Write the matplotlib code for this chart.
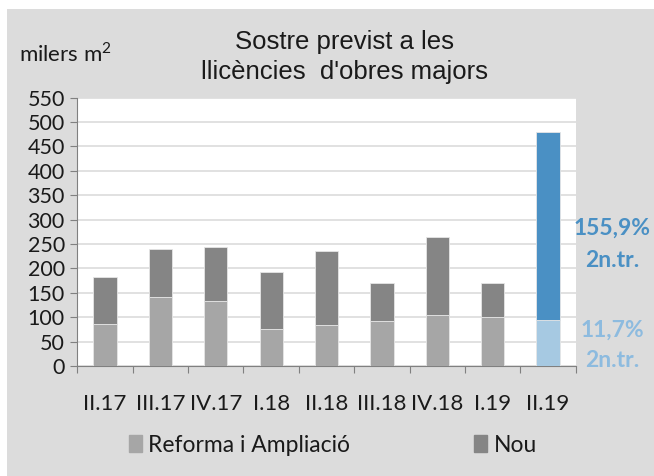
import matplotlib.pyplot as plt
import matplotlib.patches as mpatches
import numpy as np

# Dades (milers m2)
trimestres = ['II.17', 'III.17', 'IV.17', 'I.18', 'II.18', 'III.18', 'IV.18', 'I.19', 'II.19']
reforma = [87, 141, 134, 76, 84, 92, 105, 100, 95]
nou = [96, 99, 109, 117, 151, 79, 160, 71, 384]

gris_ref = '#a6a6a6'
gris_nou = '#858585'
blau = '#4a90c4'
blau_clar = '#a6c9e2'
fons = '#dcdcdc'
text_col = '#1a1a1a'

plt.rcParams['mathtext.fontset'] = 'custom'
plt.rcParams['mathtext.rm'] = 'Lato'

fig = plt.figure(figsize=(6.54, 4.76), dpi=100)
fig.patch.set_facecolor('white')
# fons gris del gràfic (amb marge blanc a dalt i a l'esquerra)
fig.patches.append(mpatches.Rectangle((7 / 654, 0), 1, 1 - 9 / 476, transform=fig.transFigure,
                                      facecolor=fons, edgecolor='none', zorder=-10))

ax = fig.add_axes([0.1182, 0.2311, 0.7621, 0.5636])
ax.set_facecolor('white')

x = np.arange(len(trimestres))
col_ref = [gris_ref] * (len(x) - 1) + [blau_clar]
col_nou = [gris_nou] * (len(x) - 1) + [blau]
ax.bar(x, reforma, width=0.42, color=col_ref, edgecolor='#e6e6e6', linewidth=0.6, zorder=3)
ax.bar(x, nou, bottom=reforma, width=0.42, color=col_nou, edgecolor='#e6e6e6', linewidth=0.6, zorder=3)

ax.set_ylim(0, 550)
ax.set_xlim(-0.5, len(x) - 0.5)
ax.set_yticks(np.arange(0, 551, 50))
ax.yaxis.grid(True, color='#d9d9d9', linewidth=1.1, zorder=0)
ax.set_axisbelow(True)

# ticks de l'eix x entre categories, etiquetes al centre
ax.set_xticks(np.arange(-0.5, len(x), 1))
ax.set_xticklabels([])
ax.set_xticks(x, minor=True)
ax.set_xticklabels(trimestres, minor=True)
ax.tick_params(axis='x', which='major', length=5, color='#808080', direction='out')
ax.tick_params(axis='x', which='minor', length=0, pad=20)
ax.tick_params(axis='y', length=5, color='#808080', pad=4)

for lab in ax.get_xticklabels(minor=True):
    lab.set_family('Lato')
    lab.set_fontsize(16)
    lab.set_color(text_col)
for lab in ax.get_yticklabels():
    lab.set_family('Lato')
    lab.set_fontsize(15.5)
    lab.set_color(text_col)

for s in ['top', 'right']:
    ax.spines[s].set_visible(False)
ax.spines['left'].set_color('#808080')
ax.spines['bottom'].set_color('#808080')

# títol i unitats
fig.text(345 / 654, 1 - 49 / 476, "Sostre previst a les", family='Liberation Sans',
         fontsize=18.5, ha='center', va='baseline', color=text_col)
fig.text(345 / 654, 1 - 79 / 476, "llicències  d'obres majors", family='Liberation Sans',
         fontsize=18.5, ha='center', va='baseline', color=text_col)
fig.text(19 / 654, 1 - 62 / 476, r'milers m$^{\mathrm{2}}$', family='Lato', fontsize=16,
         ha='left', va='baseline', color=text_col)

# anotacions de variació
fig.text(612 / 654, 1 - 235 / 476, '155,9%', family='Lato', fontweight='bold',
         fontsize=16.5, color=blau, ha='center', va='baseline')
fig.text(612 / 654, 1 - 267 / 476, '2n.tr.', family='Lato', fontweight='bold',
         fontsize=16.5, color=blau, ha='center', va='baseline')
fig.text(612 / 654, 1 - 337 / 476, '11,7%', family='Lato', fontweight='bold',
         fontsize=16.5, color='#8dbbdf', ha='center', va='baseline')
fig.text(612 / 654, 1 - 367 / 476, '2n.tr.', family='Lato', fontweight='bold',
         fontsize=16.5, color='#8dbbdf', ha='center', va='baseline')

# llegenda
h1 = mpatches.Patch(color=gris_ref, label='Reforma i Ampliació')
h2 = mpatches.Patch(color=gris_nou, label='Nou')
leg = fig.legend(handles=[h1, h2], loc='center left', bbox_to_anchor=(129 / 654, 1 - 445 / 476),
                 ncol=2, frameon=False, handlelength=0.55, handleheight=0.7,
                 handletextpad=0.3, columnspacing=5.4, borderaxespad=0, borderpad=0,
                 prop={'family': 'Lato', 'size': 16.5})
for t in leg.get_texts():
    t.set_color(text_col)

fig.savefig('out.png', dpi=100, facecolor=fig.get_facecolor())
